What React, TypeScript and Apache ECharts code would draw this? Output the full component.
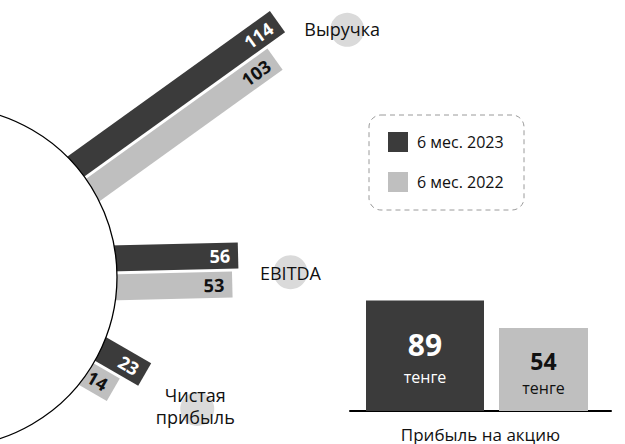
import React, { useEffect, useRef } from "react";
import * as echarts from "echarts";

// ---- data ----
const categories = ["Выручка", "EBITDA", "Чистая\nприбыль"];
const seriesNames = ["6 мес. 2023", "6 мес. 2022"];
const values2023 = [114, 56, 23];
const values2022 = [103, 53, 14];
const epsCategories = ["6 мес. 2023", "6 мес. 2022"];
const epsValues = [89, 54];
const epsUnit = "тенге";
const epsTitle = "Прибыль на акцию";

// ---- styles / layout ----
const DARK = "#3b3b3b";
const LIGHT = "#bfbfbf";
const FONT = "'Open Sans', 'Noto Sans', sans-serif";
const CX = -53;
const CY = 277;
const R = 170;
const barAngles = [35.7, 1.4, -30];
const BAR_W = 26;
const GAP = 3;
const labelAngles = [31.7, 0.8, -27.8];
const labelOffsets = [53, 52, 63];
const labelTextShift = [
  [-5, -1],
  [0, 1],
  [-2, -3],
];
const EPS_MIN = -52;
const EPS_MAX = 100;
const epsBarWidths = [118, 89];
const epsBarShift = [9.75, -2.25];
const epsNumSize = [30, 23];
const epsSep = [32, 27];
const epsTextColor = ["#ffffff", "#111111"];

function radialRenderer(which: number) {
  return (_params: any, api: any) => {
    const v = api.value(0);
    const i = api.value(1);
    const p0 = api.coord([0, i]);
    const p1 = api.coord([v, i]);
    const L = p1[0] - p0[0];
    const t = (barAngles[i] * Math.PI) / 180;
    const ux = Math.cos(t);
    const uy = -Math.sin(t);
    const nx = Math.sin(t);
    const ny = Math.cos(t);
    const a = which === 0 ? -(GAP / 2 + BAR_W) : GAP / 2;
    const b = a + BAR_W;
    const s = R - 40;
    const e = R + L;
    const pt = (d: number, o: number) => [CX + ux * d + nx * o, CY + uy * d + ny * o];
    const m = (a + b) / 2;
    const lp = pt(e - 8, m);
    return {
      type: "group",
      children: [
        {
          type: "polygon",
          shape: { points: [pt(s, a), pt(e, a), pt(e, b), pt(s, b)] },
          style: { fill: which === 0 ? DARK : LIGHT },
        },
        {
          type: "text",
          x: lp[0],
          y: lp[1],
          rotation: t,
          style: {
            text: String(v),
            align: "right",
            verticalAlign: "middle",
            fill: which === 0 ? "#ffffff" : "#111111",
            fontSize: 18,
            fontWeight: "bold",
            fontFamily: FONT,
          },
        },
      ],
    };
  };
}

function labelRenderer(_params: any, api: any) {
  const v = api.value(0);
  const i = api.value(1);
  const L = api.coord([v, i])[0] - api.coord([0, i])[0];
  const t = (labelAngles[i] * Math.PI) / 180;
  const d = R + L + labelOffsets[i];
  const x = CX + Math.cos(t) * d;
  const y = CY - Math.sin(t) * d;
  return {
    type: "group",
    children: [
      { type: "circle", shape: { cx: x, cy: y, r: 17 }, style: { fill: "#dadada" } },
      {
        type: "text",
        x: x + labelTextShift[i][0],
        y: y + labelTextShift[i][1],
        style: {
          text: categories[i],
          align: "center",
          verticalAlign: "middle",
          fontSize: 18,
          lineHeight: 22,
          fontFamily: FONT,
          fill: "#111111",
        },
      },
    ],
  };
}

function epsRenderer(_params: any, api: any) {
  const i = api.value(0);
  const v = api.value(1);
  const top = api.coord([i, v]);
  const bottom = api.coord([i, EPS_MIN]);
  const w = epsBarWidths[i];
  const cx = top[0] + epsBarShift[i];
  const h = bottom[1] - top[1];
  const mid = top[1] + h / 2 + 5;
  return {
    type: "group",
    children: [
      {
        type: "rect",
        shape: { x: cx - w / 2, y: top[1], width: w, height: h },
        style: { fill: i === 0 ? DARK : LIGHT },
      },
      {
        type: "text",
        x: cx,
        y: mid - epsSep[i] / 2,
        style: {
          text: String(v),
          align: "center",
          verticalAlign: "middle",
          fontSize: epsNumSize[i],
          fontWeight: "bold",
          fontFamily: FONT,
          fill: epsTextColor[i],
        },
      },
      {
        type: "text",
        x: cx,
        y: mid + epsSep[i] / 2,
        style: {
          text: epsUnit,
          align: "center",
          verticalAlign: "middle",
          fontSize: 16,
          fontFamily: FONT,
          fill: epsTextColor[i],
        },
      },
    ],
  };
}

export default function App() {
  const ref = useRef<HTMLDivElement>(null);
  useEffect(() => {
    if (!ref.current) return;
    const chart = echarts.init(ref.current, undefined, { renderer: "svg" });
    const option: any = {
      animation: false,
      color: [DARK, LIGHT],
      textStyle: { fontFamily: FONT },
      grid: [
        { left: 0, top: 0, width: 217, height: 100, show: false },
        { left: 350, top: 292, width: 261, height: 127, show: false },
      ],
      xAxis: [
        { gridIndex: 0, type: "value", min: 0, max: 100, show: false },
        {
          gridIndex: 1,
          type: "category",
          data: epsCategories,
          axisLine: { show: true, onZero: false, lineStyle: { color: "#000", width: 2 } },
          axisTick: { show: false },
          axisLabel: { show: false },
          name: epsTitle,
          nameLocation: "middle",
          nameGap: 15,
          nameTextStyle: { fontSize: 17, color: "#111", fontFamily: FONT },
        },
      ],
      yAxis: [
        { gridIndex: 0, type: "category", data: categories, show: false },
        { gridIndex: 1, type: "value", min: EPS_MIN, max: EPS_MAX, show: false },
      ],
      legend: {
        data: seriesNames.map((n) => ({ name: n, icon: "rect" })),
        orient: "vertical",
        left: 388,
        top: 132,
        padding: 0,
        itemWidth: 20,
        itemHeight: 20,
        itemGap: 20,
        selectedMode: false,
        textStyle: { fontSize: 16, color: "#111", fontFamily: FONT, padding: [0, 0, 0, 4] },
      },
      graphic: [
        {
          type: "rect",
          shape: { x: 369, y: 115, width: 155, height: 95, r: 12 },
          style: { fill: "none", stroke: "#9a9a9a", lineWidth: 1, lineDash: [5, 4] },
          z: 1,
        },
        {
          type: "circle",
          shape: { cx: CX, cy: CY, r: R },
          style: { fill: "#ffffff", stroke: "#000000", lineWidth: 1.3 },
          z: 50,
        },
      ],
      series: [
        {
          name: seriesNames[0],
          type: "custom",
          xAxisIndex: 0,
          yAxisIndex: 0,
          clip: false,
          itemStyle: { color: DARK },
          renderItem: radialRenderer(0),
          data: values2023.map((v, i) => [v, i]),
        },
        {
          name: seriesNames[1],
          type: "custom",
          xAxisIndex: 0,
          yAxisIndex: 0,
          clip: false,
          itemStyle: { color: LIGHT },
          renderItem: radialRenderer(1),
          data: values2022.map((v, i) => [v, i]),
        },
        {
          name: "labels",
          type: "custom",
          xAxisIndex: 0,
          yAxisIndex: 0,
          clip: false,
          silent: true,
          renderItem: labelRenderer,
          data: categories.map((_c, i) => [Math.max(values2023[i], values2022[i]), i]),
        },
        {
          name: "eps",
          type: "custom",
          xAxisIndex: 1,
          yAxisIndex: 1,
          clip: false,
          renderItem: epsRenderer,
          data: epsValues.map((v, i) => [i, v]),
        },
      ],
    };
    chart.setOption(option);
    return () => chart.dispose();
  }, []);
  return (
    <div
      ref={ref}
      style={{ position: "fixed", left: 0, top: 0, width: 625, height: 444, background: "#fff" }}
    />
  );
}
